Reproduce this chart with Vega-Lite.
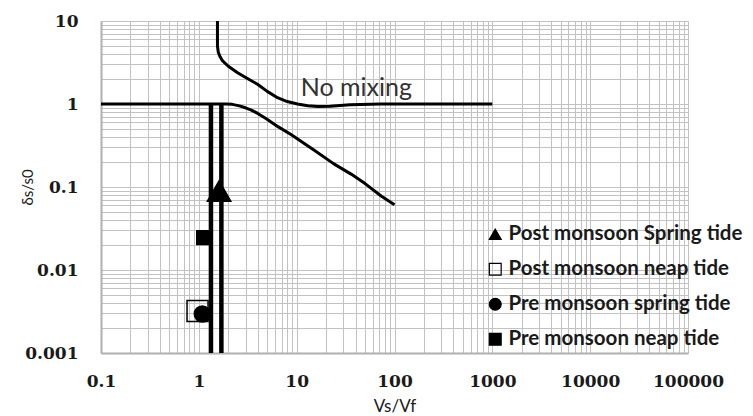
{
  "$schema": "https://vega.github.io/schema/vega-lite/v6.json",
  "width": 587,
  "height": 332,
  "autosize": "none",
  "padding": {"left": 101, "top": 21, "right": 65, "bottom": 63},
  "background": "white",
  "config": {
    "view": {"stroke": null},
    "axis": {
      "grid": true,
      "gridColor": "#c2c2c2",
      "gridWidth": 1,
      "ticks": false,
      "domainColor": "#b0b0b0",
      "domainWidth": 2,
      "labelFont": "DejaVu Serif",
      "labelFontWeight": "bold",
      "labelFontSize": 17,
      "labelColor": "#1a1a1a",
      "labelOverlap": false,
      "labelFlush": false,
      "titleFont": "Lato",
      "titleFontWeight": "normal",
      "titleColor": "#1a1a1a"
    },
    "legend": {
      "title": null,
      "orient": "none",
      "legendX": 384,
      "legendY": 203,
      "labelFont": "Lato",
      "labelFontWeight": "bold",
      "labelFontSize": 20.5,
      "labelColor": "#1a1a1a",
      "labelLimit": 400,
      "symbolSize": 140,
      "symbolStrokeWidth": 1.2,
      "rowPadding": 14,
      "labelOffset": 3
    }
  },
  "datasets": {
    "curves": [
      {"s": "nomix", "i": 1, "x": 1.55, "y": 10},
      {"s": "nomix", "i": 2, "x": 1.55, "y": 5},
      {"s": "nomix", "i": 3, "x": 1.58, "y": 4.2},
      {"s": "nomix", "i": 4, "x": 1.65, "y": 3.7},
      {"s": "nomix", "i": 5, "x": 1.75, "y": 3.3},
      {"s": "nomix", "i": 6, "x": 2.0, "y": 2.85},
      {"s": "nomix", "i": 7, "x": 2.49, "y": 2.38},
      {"s": "nomix", "i": 8, "x": 3.2, "y": 2.0},
      {"s": "nomix", "i": 9, "x": 3.98, "y": 1.73},
      {"s": "nomix", "i": 10, "x": 5.0, "y": 1.42},
      {"s": "nomix", "i": 11, "x": 6.37, "y": 1.19},
      {"s": "nomix", "i": 12, "x": 8.0, "y": 1.07},
      {"s": "nomix", "i": 13, "x": 10.2, "y": 1.0},
      {"s": "nomix", "i": 14, "x": 13, "y": 0.95},
      {"s": "nomix", "i": 15, "x": 16.4, "y": 0.93},
      {"s": "nomix", "i": 16, "x": 22, "y": 0.94},
      {"s": "nomix", "i": 17, "x": 35, "y": 0.98},
      {"s": "nomix", "i": 18, "x": 73, "y": 1.0},
      {"s": "nomix", "i": 19, "x": 1000, "y": 1.0},
      {"s": "lower", "i": 1, "x": 0.1, "y": 1},
      {"s": "lower", "i": 2, "x": 1.9, "y": 1},
      {"s": "lower", "i": 3, "x": 2.2, "y": 0.99},
      {"s": "lower", "i": 4, "x": 2.6, "y": 0.95},
      {"s": "lower", "i": 5, "x": 3.0, "y": 0.9},
      {"s": "lower", "i": 6, "x": 3.4, "y": 0.85},
      {"s": "lower", "i": 7, "x": 4.0, "y": 0.77},
      {"s": "lower", "i": 8, "x": 4.85, "y": 0.67},
      {"s": "lower", "i": 9, "x": 6.5, "y": 0.53},
      {"s": "lower", "i": 10, "x": 8.75, "y": 0.43},
      {"s": "lower", "i": 11, "x": 15, "y": 0.28},
      {"s": "lower", "i": 12, "x": 24, "y": 0.19},
      {"s": "lower", "i": 13, "x": 36, "y": 0.143},
      {"s": "lower", "i": 14, "x": 50, "y": 0.11},
      {"s": "lower", "i": 15, "x": 73, "y": 0.078},
      {"s": "lower", "i": 16, "x": 100, "y": 0.061}
    ],
    "verticals": [
      {"s": "v1", "x": 1.33, "y": 1},
      {"s": "v1", "x": 1.33, "y": 0.001},
      {"s": "v2", "x": 1.7, "y": 1},
      {"s": "v2", "x": 1.7, "y": 0.001}
    ],
    "points": [
      {"series": "Post monsoon Spring tide", "x": 1.61, "y": 0.0895},
      {"series": "Post monsoon neap tide", "x": 0.97, "y": 0.0032},
      {"series": "Pre monsoon spring tide", "x": 1.085, "y": 0.00295},
      {"series": "Pre monsoon neap tide", "x": 1.12, "y": 0.0245}
    ],
    "note": [
      {"label": "No mixing", "x": 11, "y": 1.55}
    ]
  },
  "encoding": {
    "x": {
      "field": "x", "type": "quantitative",
      "scale": {"type": "log", "domain": [0.1, 100000], "nice": false},
      "axis": {
        "title": "Vs/Vf",
        "titleFontSize": 17,
        "titleY": 58,
        "titleBaseline": "alphabetic",
        "labelPadding": 20,
        "values": [0.1,0.2,0.3,0.4,0.5,0.6,0.7,0.8,0.9,1,2,3,4,5,6,7,8,9,10,20,30,40,50,60,70,80,90,100,200,300,400,500,600,700,800,900,1000,2000,3000,4000,5000,6000,7000,8000,9000,10000,20000,30000,40000,50000,60000,70000,80000,90000,100000],
        "format": "~g",
        "labelExpr": "abs(log(datum.value)/LN10 - round(log(datum.value)/LN10)) < 0.000001 ? datum.label : ''"
      }
    },
    "y": {
      "field": "y", "type": "quantitative",
      "scale": {"type": "log", "domain": [0.001, 10], "nice": false},
      "axis": {
        "title": "δs/s0",
        "titleFontSize": 15,
        "titleX": -74,
        "titleY": 166,
        "titleBaseline": "middle",
        "labelPadding": 23,
        "values": [0.001,0.002,0.003,0.004,0.005,0.006,0.007,0.008,0.009,0.01,0.02,0.03,0.04,0.05,0.06,0.07,0.08,0.09,0.1,0.2,0.3,0.4,0.5,0.6,0.7,0.8,0.9,1,2,3,4,5,6,7,8,9,10],
        "format": "~g",
        "labelExpr": "abs(log(datum.value)/LN10 - round(log(datum.value)/LN10)) < 0.000001 ? datum.label : ''"
      }
    }
  },
  "layer": [
    {
      "data": {"name": "points"},
      "transform": [{"filter": "datum.series == 'Post monsoon Spring tide'"}],
      "mark": {"type": "point", "filled": false, "strokeWidth": 1.5, "opacity": 1, "size": 550},
      "encoding": {
        "shape": {
          "field": "series", "type": "nominal",
          "scale": {
            "domain": ["Post monsoon Spring tide", "Post monsoon neap tide", "Pre monsoon spring tide", "Pre monsoon neap tide"],
            "range": ["triangle-up", "square", "circle", "square"]
          }
        },
        "fill": {
          "field": "series", "type": "nominal",
          "scale": {
            "domain": ["Post monsoon Spring tide", "Post monsoon neap tide", "Pre monsoon spring tide", "Pre monsoon neap tide"],
            "range": ["black", "transparent", "black", "black"]
          }
        },
        "stroke": {
          "field": "series", "type": "nominal",
          "scale": {
            "domain": ["Post monsoon Spring tide", "Post monsoon neap tide", "Pre monsoon spring tide", "Pre monsoon neap tide"],
            "range": ["black", "black", "black", "black"]
          }
        }
      }
    },
    {
      "data": {"name": "points"},
      "transform": [{"filter": "datum.series == 'Post monsoon neap tide'"}],
      "mark": {"type": "point", "filled": false, "strokeWidth": 1.5, "opacity": 1, "size": 441},
      "encoding": {
        "shape": {"field": "series", "type": "nominal"},
        "fill": {"field": "series", "type": "nominal"},
        "stroke": {"field": "series", "type": "nominal"}
      }
    },
    {
      "data": {"name": "points"},
      "transform": [{"filter": "datum.series == 'Pre monsoon spring tide'"}],
      "mark": {"type": "point", "filled": false, "strokeWidth": 1.5, "opacity": 1, "size": 256},
      "encoding": {
        "shape": {"field": "series", "type": "nominal"},
        "fill": {"field": "series", "type": "nominal"},
        "stroke": {"field": "series", "type": "nominal"}
      }
    },
    {
      "data": {"name": "points"},
      "transform": [{"filter": "datum.series == 'Pre monsoon neap tide'"}],
      "mark": {"type": "point", "filled": false, "strokeWidth": 1.5, "opacity": 1, "size": 190},
      "encoding": {
        "shape": {"field": "series", "type": "nominal"},
        "fill": {"field": "series", "type": "nominal"},
        "stroke": {"field": "series", "type": "nominal"}
      }
    },
    {
      "data": {"name": "curves"},
      "mark": {"type": "line", "color": "black", "strokeWidth": 3, "strokeJoin": "round"},
      "encoding": {
        "detail": {"field": "s", "type": "nominal"},
        "order": {"field": "i", "type": "quantitative"}
      }
    },
    {
      "data": {"name": "verticals"},
      "mark": {"type": "line", "color": "black", "strokeWidth": 4.5},
      "encoding": {
        "detail": {"field": "s", "type": "nominal"}
      }
    },
    {
      "data": {"name": "note"},
      "mark": {"type": "text", "align": "left", "baseline": "middle", "font": "Lato", "fontSize": 25, "color": "#333333"},
      "encoding": {
        "text": {"field": "label"}
      }
    }
  ]
}
